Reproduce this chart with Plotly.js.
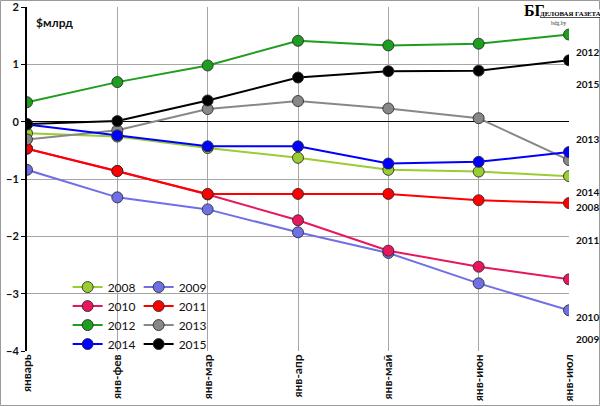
<!DOCTYPE html>
<html>
<head>
<meta charset="utf-8">
<script src="https://cdn.plot.ly/plotly-3.0.1.min.js"></script>
<style>
  body { margin: 0; background: #fff; }
  #chart { width: 600px; height: 406px; }
</style>
</head>
<body>
<div id="chart"></div>
<script>
var months = ['январь', 'янв-фев', 'янв-мар', 'янв-апр', 'янв-май', 'янв-июн', 'янв-июл'];

var y2008 = [-0.20, -0.26, -0.46, -0.63, -0.84, -0.87, -0.95];
var y2009 = [-0.84, -1.32, -1.53, -1.93, -2.29, -2.82, -3.29];
var y2010 = [-0.47, -0.86, -1.27, -1.72, -2.25, -2.53, -2.75];
var y2011 = [-0.47, -0.86, -1.26, -1.26, -1.26, -1.37, -1.42];
var y2012 = [0.34, 0.69, 0.98, 1.41, 1.33, 1.36, 1.52];
var y2013 = [-0.31, -0.15, 0.22, 0.36, 0.23, 0.06, -0.67];
var y2014 = [-0.05, -0.24, -0.43, -0.43, -0.73, -0.70, -0.53];
var y2015 = [-0.04, 0.01, 0.37, 0.77, 0.88, 0.89, 1.07];

var years = ['2008', '2009', '2010', '2011', '2012', '2013', '2014', '2015'];
var values = [y2008, y2009, y2010, y2011, y2012, y2013, y2014, y2015];
var colors = ['#9acd32', '#7070e6', '#e8175d', '#ff0000', '#1e9e1e', '#888888', '#0000ff', '#000000'];

// labels stacked down the right edge
var sideLabels = ['2012', '2015', '2013', '2014', '2008', '2011', '2010', '2009'];
var sideY = [1.22, 0.66, -0.31, -1.23, -1.48, -2.07, -3.41, -3.79];

var data = [];
for (var i = 0; i < years.length; i++) {
    data.push({
        x: months,
        y: values[i],
        name: years[i],
        type: 'scatter',
        mode: 'lines+markers',
        line: {color: colors[i], width: 2},
        marker: {color: colors[i], size: 11, line: {color: 'rgba(40,40,40,0.85)', width: 1}},
        legend: (i % 2 == 0) ? 'legend' : 'legend2'
    });
}

var annotations = [];
for (var j = 0; j < sideLabels.length; j++) {
    annotations.push({
        xref: 'paper', yref: 'y', x: 1.0085, y: sideY[j],
        xanchor: 'left', yanchor: 'middle', showarrow: false,
        text: sideLabels[j],
        font: {family: 'Lato', size: 10, weight: 'bold', color: '#111'}
    });
}
annotations.push({
    xref: 'paper', yref: 'paper', x: 0.012, y: 0.955, xanchor: 'left', yanchor: 'middle',
    showarrow: false, text: '$млрд',
    font: {family: 'Lato', size: 12, weight: 'bold', color: '#111'}
});
annotations.push({
    xref: 'paper', yref: 'paper', x: 0.915, y: 1.016, xanchor: 'left', yanchor: 'top',
    showarrow: false, text: 'БГ', bgcolor: '#fff', borderpad: 0,
    font: {family: 'Liberation Serif', size: 16, weight: 'bold', color: '#000'}
});
annotations.push({
    xref: 'paper', yref: 'paper', x: 0.945, y: 0.994, xanchor: 'left', yanchor: 'top',
    showarrow: false, text: '<u>ДЕЛОВАЯ ГАЗЕТА</u>', bgcolor: '#fff', borderpad: 0,
    font: {family: 'Liberation Serif', size: 6.8, weight: 'bold', color: '#000'}
});
annotations.push({
    xref: 'paper', yref: 'paper', x: 0.98, y: 0.966, xanchor: 'center', yanchor: 'top',
    showarrow: false, text: 'bdg.by', borderpad: 0,
    font: {family: 'Liberation Serif', size: 5.5, color: '#333'}
});

var legendFont = {family: 'Lato', size: 12, color: '#111'};

var layout = {
    width: 600,
    height: 406,
    margin: {l: 27, r: 31, t: 7, b: 55},
    paper_bgcolor: '#fff',
    plot_bgcolor: '#fff',
    showlegend: true,
    legend: {x: 0.075, y: 0.228, xanchor: 'left', yanchor: 'top', bgcolor: 'rgba(0,0,0,0)',
             font: legendFont, tracegroupgap: 0, itemwidth: 30},
    legend2: {x: 0.206, y: 0.228, xanchor: 'left', yanchor: 'top', bgcolor: 'rgba(0,0,0,0)',
              font: legendFont, tracegroupgap: 0, itemwidth: 30},
    xaxis: {
        type: 'category',
        range: [0, 6],
        showgrid: true,
        gridcolor: '#a6a6a6',
        gridwidth: 1,
        tickangle: -90,
        ticks: '',
        tickfont: {family: 'Lato', size: 12, weight: 'bold', color: '#111'},
        showline: false,
        fixedrange: true
    },
    yaxis: {
        range: [-4, 2],
        dtick: 1,
        showgrid: true,
        gridcolor: '#a6a6a6',
        gridwidth: 1,
        zeroline: true,
        zerolinecolor: '#000',
        zerolinewidth: 1.5,
        showline: true,
        linecolor: '#000',
        linewidth: 2,
        ticks: 'outside',
        ticklen: 4,
        tickcolor: '#000',
        ticklabeloverflow: 'allow',
        tickfont: {family: 'Lato', size: 11, weight: 'bold', color: '#111'},
        fixedrange: true
    },
    annotations: annotations,
    shapes: [{
        type: 'rect', xref: 'paper', yref: 'paper',
        x0: -26.5 / 344 * 344 / 542, x1: 1 + 30.5 / 542, y0: -54.5 / 344, y1: 1 + 6.5 / 344,
        line: {color: '#9a9a9a', width: 1}
    }]
};

Plotly.newPlot('chart', data, layout, {displayModeBar: false, staticPlot: true});
</script>
</body>
</html>
